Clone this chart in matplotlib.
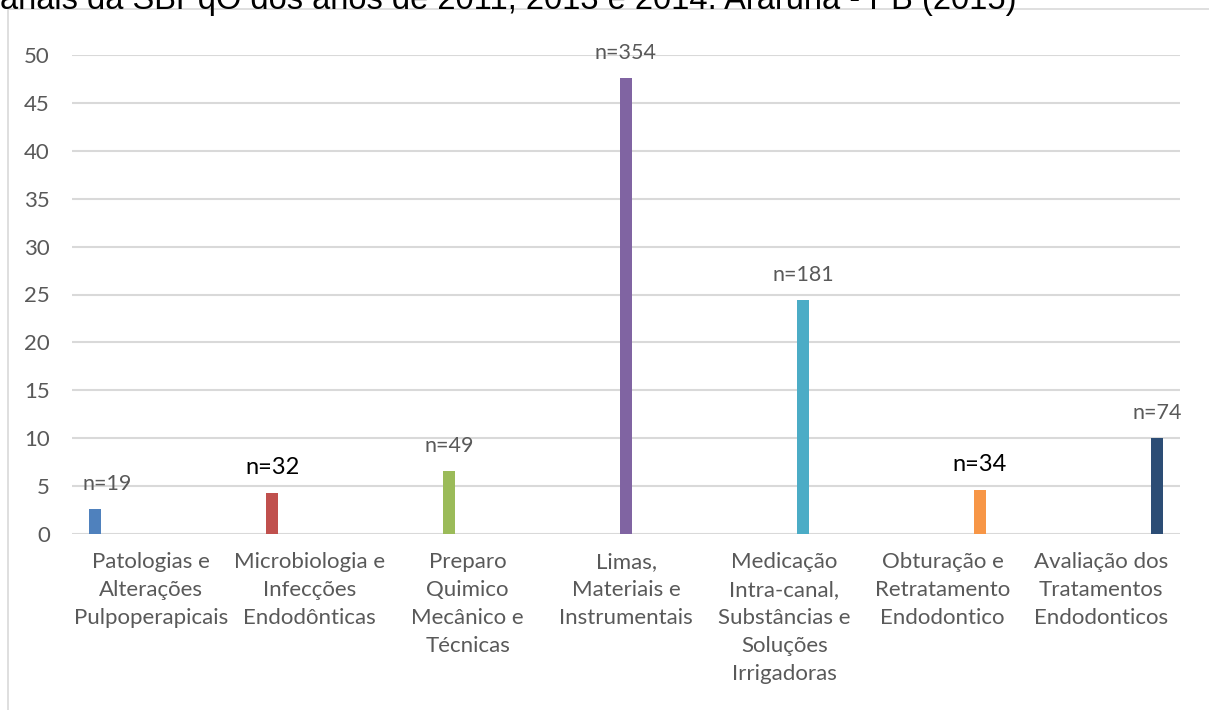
import matplotlib.pyplot as plt
from matplotlib.patches import Rectangle
import numpy as np

plt.rcParams['font.family'] = ['Lato', 'DejaVu Sans']

### Data ###
categories = [
    "Patologias e\nAlterações\nPulpoperapicais",
    "Microbiologia e\nInfecções\nEndodônticas",
    "Preparo\nQuimico\nMecânico e\nTécnicas",
    "Limas,\nMateriais e\nInstrumentais",
    "Medicação\nIntra-canal,\nSubstâncias e\nSoluções\nIrrigadoras",
    "Obturação e\nRetratamento\nEndodontico",
    "Avaliação dos\nTratamentos\nEndodonticos",
]
percent = [2.6, 4.3, 6.6, 47.6, 24.4, 4.6, 10.0]
n_labels = ["n=19", "n=32", "n=49", "n=354", "n=181", "n=34", "n=74"]
bar_colors = ["#4f81bd", "#c0504d", "#9bbb59", "#8064a2", "#4bacc6", "#f79646", "#2c4d75"]
yticks = [0, 5, 10, 15, 20, 25, 30, 35, 40, 45, 50]
title = "anais da SBPqO dos anos de 2011, 2013 e 2014. Araruna - PB (2015)"

fig = plt.figure(figsize=(12.09, 7.10), dpi=100)
ax = fig.add_axes([72 / 1209, 1 - 534 / 710, (1180 - 72) / 1209, (534 - 55) / 710])

# clustered layout: 7 series, each with a value only in its own category
n = len(categories)
slot = 0.118
width = 0.076
x = np.arange(n)
for j in range(n):
    vals = [percent[j] if i == j else 0 for i in range(n)]
    ax.bar(x + (j - 3) * slot, vals, width=width, color=bar_colors[j], zorder=3)

# n labels above bars
for j in range(n):
    big = n_labels[j] in ("n=32", "n=34")
    dx = 12 if j == 0 else 0
    ax.annotate(n_labels[j], (x[j] + (j - 3) * slot, percent[j]),
                xytext=(dx, 25), textcoords="offset pixels",
                ha="center", va="center",
                fontsize=17 if big else 15.5,
                color="#000000" if big else "#595959", zorder=4)

ax.set_xlim(-0.5, n - 0.5)
ax.set_ylim(0, 50)
ax.set_yticks(yticks)
ax.yaxis.grid(True, color="#d9d9d9", linewidth=1.5, zorder=0)
ax.set_axisbelow(True)
for s in ax.spines.values():
    s.set_visible(False)
ax.tick_params(axis="both", length=0, labelsize=16, colors="#595959")
ax.tick_params(axis="y", pad=16)
ax.set_xticks(x)
ax.set_xticklabels(categories, linespacing=1.5)
ax.tick_params(axis="x", pad=13)

# chart area border
fig.patches.append(Rectangle((8 / 1209, -0.1), 1.2, 1 - 9 / 710 + 0.1,
                             transform=fig.transFigure, fill=False,
                             edgecolor="#d9d9d9", linewidth=1.2))

# title, mostly cut off at top
fig.text(0.0, 1.0, title, ha="left", va="center", fontsize=23.5,
         family=["Liberation Sans", "DejaVu Sans"], color="#000000")

fig.savefig("out.png", dpi=100)
